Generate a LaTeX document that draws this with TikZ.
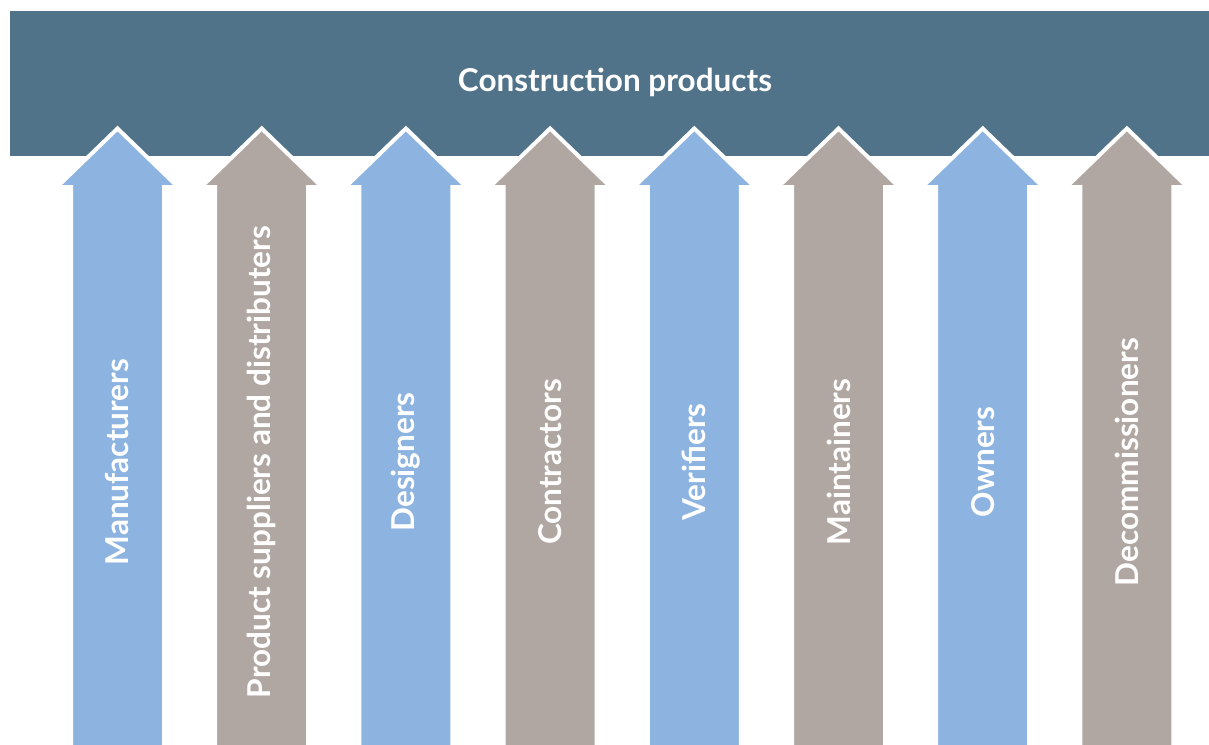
\documentclass[tikz,border=0pt]{standalone}
\usepackage{fontspec}
\setmainfont{Lato}
\begin{document}
\begin{tikzpicture}[x=1pt,y=-1pt,
  banner/.style={fill=bannerc},
  uparrow/.style={draw=white,line width=4pt,line join=miter},
  lbl/.style={text=white,font=\bfseries\fontsize{31.5}{36}\selectfont,rotate=90,inner sep=0pt},
  title/.style={text=white,font=\bfseries\fontsize{31.5}{36}\selectfont,inner sep=0pt}]
\definecolor{bannerc}{HTML}{50738A}
\definecolor{bluec}{HTML}{8DB4E1}
\definecolor{greyc}{HTML}{B1A7A2}
\useasboundingbox (0,0) rectangle (1209,744);
\clip (0,0) rectangle (1209,744);
% banner across the top
\fill[banner] (10,11) rectangle (1215,156);
\node[title] (title) at (615,82) {Construction products};
% column arrows
\foreach \i/\c/\t in {0/bluec/Manufacturers,1/greyc/Product suppliers and distributers,2/bluec/Designers,3/greyc/Contractors,4/bluec/Verifiers,5/greyc/Maintainers,6/bluec/Owners,7/greyc/Decommissioners}{
  \pgfmathsetmacro{\cx}{117.5+144.2*\i}
  \draw[uparrow,fill=\c] (\cx-46.5,760) -- (\cx-46.5,187) -- (\cx-60.5,187) -- (\cx,128.5) -- (\cx+60.5,187) -- (\cx+46.5,187) -- (\cx+46.5,760) -- cycle;
  \node[lbl] (a\i) at (\cx,462) {\t};
}
\end{tikzpicture}
\end{document}
